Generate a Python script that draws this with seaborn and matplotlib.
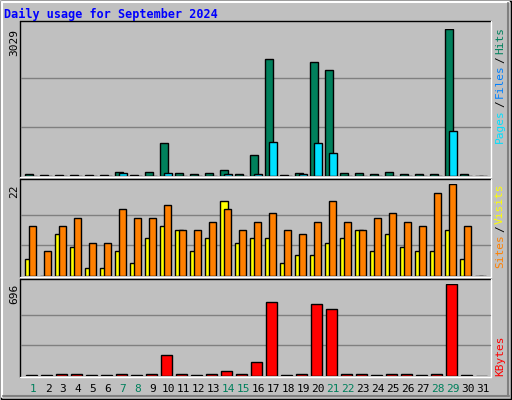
import numpy as np
import matplotlib
matplotlib.use("Agg")
import matplotlib.pyplot as plt
import seaborn as sns
from matplotlib.patches import Rectangle

sns.set_style("white")
plt.rcParams['font.family'] = ['DejaVu Sans Mono', 'DejaVu Sans']

days = list(range(1, 32))
weekend = [1, 7, 8, 14, 15, 21, 22, 28, 29]

hits = [35, 20, 30, 30, 20, 20, 83, 30, 76, 675, 60, 35, 55, 117, 35, 427, 2409, 30, 55,
        2347, 2182, 55, 60, 40, 76, 40, 40, 40, 3029, 35, 0]
pages = [8, 5, 8, 8, 5, 5, 55, 8, 10, 55, 10, 8, 10, 34, 10, 34, 695, 8, 34,
         675, 468, 10, 10, 8, 10, 8, 8, 8, 922, 8, 0]
visits = [4, 0, 10, 7, 2, 2, 6, 3, 9, 12, 11, 6, 9, 18, 8, 9, 9, 3, 5,
          5, 8, 9, 11, 6, 10, 7, 6, 6, 11, 4, 0]
sites = [12, 6, 12, 14, 8, 8, 16, 14, 14, 17, 11, 11, 13, 16, 11, 13, 15, 11, 10,
         13, 18, 13, 11, 14, 15, 13, 12, 20, 22, 12, 0]
kbytes = [5, 5, 15, 15, 5, 5, 15, 5, 15, 154, 15, 5, 15, 33, 15, 101, 557, 5, 15,
          542, 504, 15, 15, 5, 15, 15, 5, 15, 696, 5, 0]

W, H = 512, 400
fig = plt.figure(figsize=(W / 100, H / 100), dpi=100)
fig.patch.set_facecolor("#C0C0C0")

bg = fig.add_axes([0, 0, 1, 1])
bg.set_xlim(0, W)
bg.set_ylim(H, 0)
bg.axis("off")
# outer 3D border
bg.add_patch(Rectangle((0.5, 0.5), W - 1.5, H - 1.5, fill=False, ec="black", lw=1))
bg.plot([2, W - 3], [2, 2], color="white", lw=1.5)
bg.plot([2, 2], [2, H - 3], color="white", lw=1.5)
bg.plot([3, W - 3], [H - 4, H - 4], color="#808080", lw=1.5)
bg.plot([W - 4, W - 4], [3, H - 4], color="#808080", lw=1.5)

bg.text(4, 14, "Daily usage for September 2024", color="#0000FF", fontsize=8.5,
        fontweight="bold", va="center", ha="left")

# (frame top, value top, baseline, frame bottom)
panels = [(21, 29.3, 176, 177), (179, 184.3, 276, 277), (279, 284, 375.7, 377)]
for ft, vt, base, fb in panels:
    bg.add_patch(Rectangle((20, ft), 471, fb - ft, fc="#C0C0C0", ec="none"))
    bg.plot([20, 491], [ft, ft], color="black", lw=1)
    bg.plot([20, 20], [ft, fb], color="black", lw=1)
    bg.plot([20, 491], [fb, fb], color="white", lw=1)
    bg.plot([491, 491], [ft, fb], color="white", lw=1)


def panel_axes(vt, base, vmax):
    ax = fig.add_axes([0, 1 - base / H, 1, (base - vt) / H])
    ax.set_xlim(0, W)
    ax.set_ylim(0, vmax)
    ax.patch.set_alpha(0)
    ax.axis("off")
    for f in (1 / 3, 2 / 3):
        ax.plot([21, 490], [vmax * f] * 2, color="#808080", lw=1, zorder=1)
    return ax


x0 = np.array([25 + 15 * (d - 1) for d in days], dtype=float)
ek = dict(edgecolor="black", linewidth=1, align="edge", zorder=3)

ax1 = panel_axes(29.3, 176, 3029)
ax1.bar(x0, hits, width=7.5, color="#00805C", **ek)
ax1.bar(x0 + 4.3, pages, width=7.2, color="#00E0FF", **ek)

ax2 = panel_axes(184.3, 276, 22)
ax2.bar(x0, visits, width=8, color="#FFFF00", **ek)
ax2.bar(x0 + 4.3, sites, width=7, color="#FF8000", **ek)

ax3 = panel_axes(284, 375.7, 696)
ax3.bar(x0 + 1, kbytes, width=10.5, color="#FF0000", **ek)

# max labels
for vt, txt in [(29.3, "3029"), (184.3, "22"), (284, "696")]:
    bg.text(14, vt, txt, rotation=90, fontsize=8, ha="center", va="top", color="black")

renderer = fig.canvas.get_renderer()


# right side labels (rotated, read bottom-up), pieces listed top to bottom
def vlabel(parts, ytop):
    y = ytop
    for s, c in parts:
        t = bg.text(500, y, s, rotation=90, fontsize=8, ha="center", va="top", color=c)
        ext = t.get_window_extent(renderer)
        y += ext.height + 2

vlabel([("Hits", "#00805C"), ("/", "#000000"), ("Files", "#0080FF"),
        ("/", "#000000"), ("Pages", "#00E0FF")], 27)
vlabel([("Visits", "#FFFF00"), ("/", "#000000"), ("Sites", "#FF8000")], 183)
vlabel([("KBytes", "#FF0000")], 336)

for d, x in zip(days, x0):
    bg.text(x + 8, 389, str(d), fontsize=8, ha="center", va="center",
            color="#00805C" if d in weekend else "black")

fig.savefig("out.png", dpi=100, facecolor=fig.get_facecolor())
